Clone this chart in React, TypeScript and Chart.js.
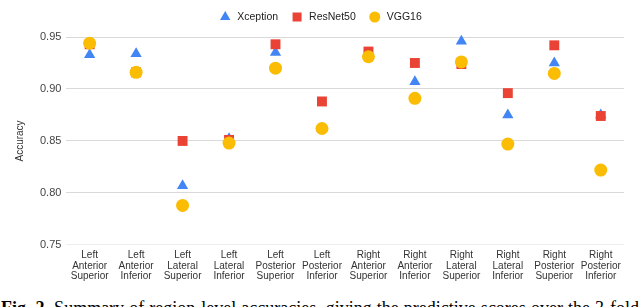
import React, { useEffect, useRef } from "react";
import { Chart, registerables } from "chart.js";

Chart.register(...registerables);

const categories: string[][] = [
  ["Left", "Anterior", "Superior"],
  ["Left", "Anterior", "Inferior"],
  ["Left", "Lateral", "Superior"],
  ["Left", "Lateral", "Inferior"],
  ["Left", "Posterior", "Superior"],
  ["Left", "Posterior", "Inferior"],
  ["Right", "Anterior", "Superior"],
  ["Right", "Anterior", "Inferior"],
  ["Right", "Lateral", "Superior"],
  ["Right", "Lateral", "Inferior"],
  ["Right", "Posterior", "Superior"],
  ["Right", "Posterior", "Inferior"],
];

const xceptionValues = [0.933, 0.934, 0.807, 0.852, 0.935, 0.862, 0.932, 0.907, 0.946, 0.875, 0.925, 0.875];
const resnet50Values = [0.943, 0.916, 0.85, 0.851, 0.943, 0.888, 0.936, 0.925, 0.924, 0.896, 0.942, 0.874];
const vgg16Values = [0.944, 0.916, 0.788, 0.848, 0.92, 0.862, 0.931, 0.891, 0.926, 0.847, 0.915, 0.822];

const yTicks = [0.75, 0.8, 0.85, 0.9, 0.95];

const FONT = "Liberation Sans, Arial, sans-serif";

function drawMarker(ctx: CanvasRenderingContext2D, style: string, x: number, y: number, r: number, color: string) {
  ctx.save();
  ctx.fillStyle = color;
  ctx.beginPath();
  if (style === "triangle") {
    const h = r * 1.5;
    const w = r * Math.sqrt(3);
    ctx.moveTo(x, y - h * 2 / 3);
    ctx.lineTo(x + w / 2, y + h / 3);
    ctx.lineTo(x - w / 2, y + h / 3);
    ctx.closePath();
  } else if (style === "rect") {
    ctx.rect(x - r, y - r, 2 * r, 2 * r);
  } else {
    ctx.arc(x, y, r, 0, Math.PI * 2);
  }
  ctx.fill();
  ctx.restore();
}

const legendPlugin = {
  id: "customLegend",
  afterDraw(chart: any) {
    const ctx: CanvasRenderingContext2D = chart.ctx;
    const ds = chart.data.datasets;
    ctx.save();
    ctx.font = `10.5px ${FONT}`;
    ctx.textBaseline = "middle";
    const markerGap = 12;
    const itemGap = 19;
    const widths = ds.map((d: any) => ctx.measureText(d.label).width);
    let total = 0;
    widths.forEach((w: number, i: number) => {
      total += markerGap + w + (i < ds.length - 1 ? itemGap : 0);
    });
    total += 5;
    let x = chart.width / 2 - total / 2 + 6;
    const y = 17;
    ds.forEach((d: any, i: number) => {
      const sizes: any = { triangle: 6, rect: 4.5, circle: 5.5 };
      drawMarker(ctx, d.pointStyle, x, y, sizes[d.pointStyle], d.backgroundColor);
      ctx.fillStyle = "#222";
      ctx.textAlign = "left";
      ctx.fillText(d.label, x + markerGap, y + 0.5);
      x += markerGap + widths[i] + itemGap;
    });
    ctx.restore();
  },
};

export default function App() {
  const ref = useRef<HTMLCanvasElement | null>(null);

  useEffect(() => {
    if (!ref.current) return;
    const chart = new Chart(ref.current, {
      type: "line",
      data: {
        labels: categories,
        datasets: [
          {
            label: "Xception",
            data: xceptionValues,
            showLine: false,
            pointStyle: "triangle",
            pointRadius: 6.5,
            pointHoverRadius: 6.5,
            backgroundColor: "#4285F4",
            borderColor: "#4285F4",
            pointBorderWidth: 0,
            order: 2,
          },
          {
            label: "ResNet50",
            data: resnet50Values,
            showLine: false,
            pointStyle: "rect",
            pointRadius: 7,
            pointHoverRadius: 7,
            backgroundColor: "#EA4335",
            borderColor: "#EA4335",
            pointBorderWidth: 0,
            order: 1,
          },
          {
            label: "VGG16",
            data: vgg16Values,
            showLine: false,
            pointStyle: "circle",
            pointRadius: 6.5,
            pointHoverRadius: 6.5,
            backgroundColor: "#FBBC04",
            borderColor: "#FBBC04",
            pointBorderWidth: 0,
            order: 0,
          },
        ],
      },
      options: {
        animation: false,
        responsive: false,
        maintainAspectRatio: false,
        clip: false as any,
        layout: { padding: { top: 37, right: 16, left: 14, bottom: 2 } },
        plugins: {
          tooltip: { enabled: false },
          legend: { display: false },
        },
        scales: {
          x: {
            type: "category",
            offset: true,
            grid: { display: false, drawTicks: false },
            border: { display: false },
            ticks: {
              maxRotation: 0,
              minRotation: 0,
              autoSkip: false,
              padding: 5,
              color: "#333",
              font: { family: FONT, size: 10, lineHeight: 1.07 },
            },
          },
          y: {
            min: 0.75,
            max: 0.95,
            afterBuildTicks: (axis: any) => {
              axis.ticks = yTicks.map((v) => ({ value: v }));
            },
            grid: {
              drawTicks: false,
              color: (ctx: any) => (ctx.tick && Math.abs(ctx.tick.value - 0.75) < 1e-6 ? "#eeeeee" : "#d9d9d9"),
              lineWidth: 1,
            },
            border: { display: false },
            ticks: {
              padding: 5,
              color: "#444",
              font: { family: FONT, size: 11 },
              callback: (v: any) => Number(v).toFixed(2),
            },
            title: {
              display: true,
              text: "Accuracy",
              color: "#333",
              padding: { top: 0, bottom: 9 },
              font: { family: FONT, size: 10 },
            },
          },
        },
      },
      plugins: [legendPlugin],
    });
    return () => chart.destroy();
  }, []);

  return (
    <div style={{ position: "fixed", left: 0, top: 0, width: 640, height: 307, overflow: "hidden", background: "#fff" }}>
      <canvas ref={ref} width={640} height={289} style={{ display: "block", width: 640, height: 289 }} />
      <div
        style={{
          position: "absolute",
          left: 1,
          top: 299,
          width: 638,
          whiteSpace: "nowrap",
          textAlign: "justify",
          textAlignLast: "justify" as any,
          fontFamily: "Liberation Serif, Times New Roman, serif",
          fontSize: 18,
          lineHeight: "18px",
          color: "#000",
        }}
      >
        <b>Fig. 2.</b> Summary of region-level accuracies, giving the predictive scores over the 3-fold
      </div>
    </div>
  );
}
